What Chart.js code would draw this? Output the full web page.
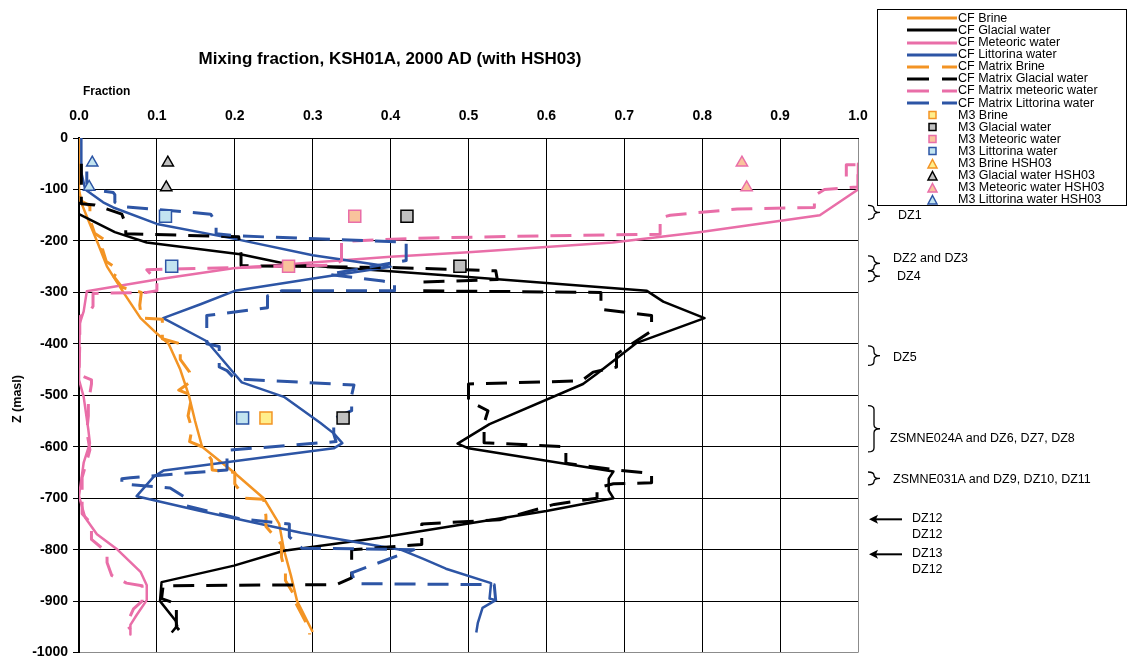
<!DOCTYPE html>
<html>
<head>
<meta charset="utf-8">
<script src="https://cdn.jsdelivr.net/npm/chart.js@4/dist/chart.umd.min.js"></script>
<style>
  html, body { margin: 0; padding: 0; background: #fff; }
  #wrap { position: relative; width: 1130px; height: 666px; overflow: hidden;
          font-family: 'Liberation Sans', Arial, sans-serif; color: #000; }
  #c { position: absolute; left: 0; top: 0; }
  .t { position: absolute; white-space: nowrap; }
  #title { left: 140px; width: 500px; top: 49px; text-align: center; font-weight: bold; font-size: 17px; line-height: 20px; }
  #xname { left: 83px; top: 84px; font-weight: bold; font-size: 12px; line-height: 14px; }
  #yname { left: 17px; top: 399px; font-weight: bold; font-size: 12.5px; line-height: 14px;
           transform: translate(-50%, -50%) rotate(-90deg); }
  #legend { position: absolute; left: 877px; top: 9px; width: 250px; height: 197px; border: 1px solid #000; box-sizing: border-box; }
  .lg { position: absolute; font-size: 12.5px; line-height: 12px; }
  .zone { font-size: 12.5px; line-height: 14px; }
</style>
</head>
<body>
<div id="wrap">
  <canvas id="c" width="1130" height="666"></canvas>
  <div id="title" class="t">Mixing fraction, KSH01A, 2000 AD (with HSH03)</div>
  <div id="xname" class="t">Fraction</div>
  <div id="yname" class="t">Z (masl)</div>
  <div id="legend"></div>
</div>
<script>
// ---- Axis ticks ----
const xTickLabels = ['0.0','0.1','0.2','0.3','0.4','0.5','0.6','0.7','0.8','0.9','1.0'];
const yTickValues = [0,-100,-200,-300,-400,-500,-600,-700,-800,-900,-1000];

// ---- Calculated fractions along the borehole: [fraction, elevation (m)] ----
const brineCF = [[0,0],[0,-100],[0.004,-130],[0.012,-160],[0.023,-200],[0.036,-250],[0.057,-300],
  [0.079,-350],[0.1,-380],[0.115,-400],[0.13,-450],[0.141,-500],[0.149,-550],[0.158,-600],[0.199,-650],
  [0.237,-700],[0.257,-750],[0.263,-800],[0.272,-850],[0.28,-900],[0.3,-960]];

const glacialCF = [[0,-148],[0.046,-183],[0.087,-203],[0.207,-226],[0.267,-245],[0.4,-259],[0.5,-270],
  [0.729,-297],[0.75,-318],[0.803,-350],[0.716,-398],[0.664,-459],[0.647,-478],[0.527,-556],[0.486,-594],
  [0.5,-603],[0.686,-648],[0.68,-662],[0.68,-685],[0.686,-700],[0.6,-725],[0.386,-777],[0.263,-802],
  [0.199,-831],[0.106,-863],[0.104,-900],[0.124,-938],[0.126,-948],[0.119,-961]];

const meteoricCF = [[1.0,-50],[1.0,-100],[0.951,-150],[0.796,-183],[0.685,-203],[0.5,-222],[0.4,-231],
  [0.198,-253],[0.1,-275],[0.01,-298],[0.006,-337],[0.001,-360],[0,-400],[0,-470],[0.006,-503],
  [0.012,-567],[0.014,-593],[0.006,-631],[0,-696],[0.008,-738],[0.023,-770],[0.048,-798],[0.079,-843],
  [0.087,-869],[0.087,-898],[0.074,-927],[0.066,-946],[0.066,-965]];

const littorinaCF = [[0.003,0],[0.003,-67],[0.008,-100],[0.031,-125],[0.044,-135],[0.1,-167],[0.2,-196],
  [0.3,-228],[0.4,-250],[0.305,-272],[0.2,-297],[0.156,-323],[0.108,-350],[0.164,-395],[0.2,-459],
  [0.209,-475],[0.263,-503],[0.31,-554],[0.327,-574],[0.338,-593],[0.327,-603],[0.194,-629],[0.109,-646],
  [0.096,-658],[0.074,-696],[0.156,-725],[0.285,-767],[0.413,-800],[0.442,-818],[0.471,-837],[0.529,-865],
  [0.527,-895],[0.535,-898],[0.518,-913],[0.512,-942],[0.51,-961]];

// ---- Matrix fractions ----
const brineMatrix = [[0,-50],[0,-120],[0.014,-132],[0.014,-158],[0.02,-185],[0.035,-200],[0.03,-215],
  [0.035,-240],[0.05,-255],[0.045,-270],[0.055,-290],[0.08,-300],[0.078,-325],[0.08,-350],[0.107,-352],
  [0.107,-390],[0.13,-400],[0.13,-430],[0.142,-455],[0.142,-475],[0.128,-490],[0.145,-500],[0.14,-540],
  [0.145,-565],[0.142,-590],[0.158,-600],[0.17,-625],[0.171,-645],[0.2,-650],[0.2,-672],[0.213,-700],
  [0.237,-702],[0.24,-735],[0.24,-755],[0.26,-790],[0.26,-815],[0.265,-845],[0.265,-860],[0.277,-890],
  [0.277,-900],[0.296,-955],[0.296,-965]];

const glacialMatrix = [[0.003,-50],[0.003,-128],[0.02,-130],[0.055,-148],[0.06,-168],[0.06,-186],
  [0.205,-192],[0.208,-226],[0.208,-248],[0.41,-252],[0.535,-258],[0.537,-275],[0.44,-280],[0.44,-297],
  [0.67,-300],[0.67,-333],[0.735,-345],[0.735,-375],[0.71,-400],[0.69,-420],[0.69,-445],[0.66,-455],
  [0.645,-472],[0.5,-478],[0.5,-511],[0.525,-530],[0.52,-555],[0.52,-592],[0.625,-600],[0.625,-632],
  [0.69,-645],[0.735,-652],[0.735,-670],[0.686,-672],[0.665,-680],[0.665,-700],[0.61,-712],[0.54,-742],
  [0.44,-750],[0.44,-790],[0.35,-800],[0.35,-855],[0.33,-868],[0.108,-870],[0.106,-895],[0.125,-905],
  [0.125,-950],[0.132,-962]];

const meteoricMatrix = [[0.985,-75],[0.985,-52],[1.0,-52],[1.0,-95],[0.957,-100],[0.944,-112],[0.944,-135],
  [0.845,-138],[0.759,-150],[0.746,-155],[0.746,-187],[0.6,-190],[0.43,-195],[0.35,-200],[0.337,-202],
  [0.337,-238],[0.327,-247],[0.087,-256],[0.1,-278],[0.1,-297],[0.087,-300],[0.018,-302],[0.018,-327],
  [0.014,-337],[0.001,-347],[0.001,-400],[0,-460],[0.016,-470],[0.016,-478],[0.012,-515],[0.012,-540],
  [0.01,-570],[0.014,-606],[0.004,-660],[0.004,-730],[0.016,-750],[0.016,-780],[0.036,-805],[0.036,-825],
  [0.042,-850],[0.061,-865],[0.081,-870],[0.081,-900],[0.07,-915],[0.061,-945],[0.066,-955]];

const littorinaMatrix = [[0.01,-65],[0.01,-88],[0.014,-100],[0.044,-106],[0.046,-110],[0.046,-125],
  [0.055,-133],[0.169,-148],[0.176,-165],[0.176,-186],[0.2,-190],[0.41,-202],[0.42,-202],[0.42,-238],
  [0.32,-265],[0.39,-278],[0.405,-282],[0.405,-297],[0.26,-297],[0.242,-307],[0.242,-330],[0.164,-345],
  [0.164,-400],[0.18,-405],[0.18,-445],[0.19,-452],[0.2,-468],[0.353,-480],[0.35,-500],[0.35,-530],
  [0.327,-545],[0.327,-575],[0.33,-590],[0.206,-605],[0.19,-607],[0.19,-645],[0.066,-660],[0.055,-662],
  [0.055,-672],[0.117,-680],[0.138,-700],[0.138,-715],[0.207,-740],[0.27,-750],[0.27,-775],[0.286,-797],
  [0.43,-800],[0.35,-845],[0.355,-866],[0.533,-868],[0.535,-900]];

// ---- M3 sample points ----
const m3Brine = [[0.24,-544]];
const m3Glacial = [[0.421,-152],[0.489,-249],[0.339,-544]];
const m3Meteoric = [[0.354,-152],[0.269,-249]];
const m3Littorina = [[0.111,-152],[0.119,-249],[0.21,-544]];
const hshBrine = [];
const hshGlacial = [[0.114,-48],[0.112,-96]];
const hshMeteoric = [[0.851,-48],[0.857,-96]];
const hshLittorina = [[0.017,-48],[0.013,-95]];

// ---- Deformation zone annotations ----
const zoneNames = ['DZ1','DZ2 and DZ3','DZ4','DZ5','ZSMNE024A and DZ6, DZ7, DZ8','ZSMNE031A and DZ9, DZ10, DZ11'];
const zoneTop = [-131,-229,-258,-404,-520,-649];
const zoneBottom = [-158,-258,-279,-442,-610,-674];
const zoneLabelZ = [-151,-234,-270,-426,-583,-663];
const arrowZ = [-741,-809];
const arrowNames = [['DZ12','DZ12'],['DZ13','DZ12']];
const arrowLabelZ = [[-739,-770],[-808,-838]];

// ---- Styling ----
const ORANGE = '#F39424', BLACK = '#000000', PINK = '#E96EA8', BLUE = '#2D55A5';
const FONT = "'Liberation Sans', Arial, sans-serif";

const lineSeries = [
  ['CF Brine', brineCF, ORANGE, false],
  ['CF Glacial water', glacialCF, BLACK, false],
  ['CF Meteoric water', meteoricCF, PINK, false],
  ['CF Littorina water', littorinaCF, BLUE, false],
  ['CF Matrix Brine', brineMatrix, ORANGE, true],
  ['CF Matrix Glacial water', glacialMatrix, BLACK, true],
  ['CF Matrix meteoric water', meteoricMatrix, PINK, true],
  ['CF Matrix Littorina water', littorinaMatrix, BLUE, true]
];
const markerSeries = [
  ['M3 Brine', m3Brine, 'rect', '#FFEE8C', ORANGE],
  ['M3 Glacial water', m3Glacial, 'rect', '#C0C0C0', BLACK],
  ['M3 Meteoric water', m3Meteoric, 'rect', '#F9C39C', PINK],
  ['M3 Littorina water', m3Littorina, 'rect', '#C2E4F0', BLUE],
  ['M3 Brine HSH03', hshBrine, 'triangle', '#FFEE8C', ORANGE],
  ['M3 Glacial water HSH03', hshGlacial, 'triangle', '#C0C0C0', BLACK],
  ['M3 Meteoric water HSH03', hshMeteoric, 'triangle', '#F9C39C', PINK],
  ['M3 Littorina water HSH03', hshLittorina, 'triangle', '#C2E4F0', BLUE]
];

const DASH = [21, 12];
const datasets = [];
lineSeries.forEach(([label, data, color, dashed]) => {
  datasets.push({
    label, data, showLine: true, borderColor: color, backgroundColor: color,
    borderWidth: dashed ? 3 : 2.5, borderDash: dashed ? DASH : [],
    pointRadius: 0, pointHoverRadius: 0, tension: 0, borderJoinStyle: 'round',
    kind: 'line', dashed
  });
});
markerSeries.forEach(([label, data, style, fill, stroke]) => {
  datasets.push({
    label, data, showLine: false, pointStyle: style,
    pointRadius: style === 'rect' ? 8.5 : 6.5, pointHoverRadius: style === 'rect' ? 8.5 : 6.5,
    backgroundColor: fill, borderColor: stroke, borderWidth: 1.5, pointBorderWidth: 1.5,
    kind: 'marker'
  });
});
// later series are painted above earlier ones
datasets.forEach((d, i) => { d.order = datasets.length - i; });

// braces and arrows beside the plot, placed on the depth scale
const zonePlugin = {
  id: 'zones',
  afterDraw(chart) {
    const ctx = chart.ctx, y = chart.scales.y;
    ctx.save();
    ctx.strokeStyle = '#000';
    ctx.lineWidth = 1.3;
    zoneTop.forEach((zt, i) => {
      const y0 = y.getPixelForValue(zt), y1 = y.getPixelForValue(zoneBottom[i]);
      const x0 = 868, xm = 874, xt = 880, ym = (y0 + y1) / 2;
      const r = Math.min(4, (y1 - y0) / 4);
      ctx.beginPath();
      ctx.moveTo(x0, y0);
      ctx.quadraticCurveTo(xm, y0, xm, y0 + r);
      ctx.lineTo(xm, ym - r);
      ctx.quadraticCurveTo(xm, ym, xt, ym);
      ctx.quadraticCurveTo(xm, ym, xm, ym + r);
      ctx.lineTo(xm, y1 - r);
      ctx.quadraticCurveTo(xm, y1, x0, y1);
      ctx.stroke();
    });
    ctx.lineWidth = 2;
    ctx.fillStyle = '#000';
    arrowZ.forEach(z => {
      const py = y.getPixelForValue(z);
      ctx.beginPath();
      ctx.moveTo(902, py);
      ctx.lineTo(875, py);
      ctx.stroke();
      ctx.beginPath();
      ctx.moveTo(869, py);
      ctx.lineTo(878, py - 4.5);
      ctx.lineTo(876, py);
      ctx.lineTo(878, py + 4.5);
      ctx.closePath();
      ctx.fill();
    });
    ctx.restore();
  }
};

const chart = new Chart(document.getElementById('c'), {
  type: 'scatter',
  data: { datasets },
  plugins: [zonePlugin],
  options: {
    responsive: false,
    animation: false,
    devicePixelRatio: 1,
    layout: { padding: { left: 0, top: 0, right: 272, bottom: 8 } },
    plugins: { legend: { display: false }, tooltip: { enabled: false }, title: { display: false } },
    scales: {
      x: {
        type: 'linear', position: 'top', min: 0, max: 1,
        afterFit: s => { s.height = 138; },
        afterBuildTicks: s => { s.ticks = xTickLabels.map(v => ({ value: parseFloat(v) })); },
        ticks: { callback: (v, i) => xTickLabels[i], padding: 13, maxRotation: 0, autoSkip: false,
                 color: '#000', font: { family: FONT, size: 14, weight: 'bold' } },
        grid: { color: c => (c.tick && c.tick.value >= 0.999) ? '#8c8c8c' : '#000', lineWidth: 1, drawTicks: false },
        border: { display: true, color: '#000', width: 1 }
      },
      y: {
        type: 'linear', position: 'left', min: -1000, max: 0,
        afterFit: s => { s.width = 79; },
        afterBuildTicks: s => { s.ticks = yTickValues.map(v => ({ value: v })); },
        ticks: { callback: v => String(v), padding: 5, autoSkip: false,
                 color: '#000', font: { family: FONT, size: 14, weight: 'bold' } },
        grid: { color: c => (c.tick && c.tick.value <= -999) ? '#8c8c8c' : '#000', lineWidth: 1,
                drawTicks: true, tickLength: 6, tickColor: '#000' },
        border: { display: true, color: '#000', width: 2 }
      }
    }
  }
});

// ---- zone labels as page text ----
const wrap = document.getElementById('wrap');
const yS = chart.scales.y;
const zoneTextX = [898, 893, 897, 893, 890, 893];
function addText(text, x, z) {
  const d = document.createElement('div');
  d.className = 't zone';
  d.textContent = text;
  d.style.left = x + 'px';
  d.style.top = (yS.getPixelForValue(z) - 7.5) + 'px';
  wrap.appendChild(d);
}
zoneNames.forEach((n, i) => addText(n, zoneTextX[i], zoneLabelZ[i]));
arrowNames.forEach((pair, i) => pair.forEach((n, j) => addText(n, 912, arrowLabelZ[i][j])));

// ---- legend ----
const legend = document.getElementById('legend');
const NS = 'http://www.w3.org/2000/svg';
datasets.forEach((d, i) => {
  const yc = 17.3 + i * 12.1 - 9;   // row centre inside the legend box
  const svg = document.createElementNS(NS, 'svg');
  svg.setAttribute('width', 54); svg.setAttribute('height', 12);
  svg.style.position = 'absolute';
  svg.style.left = (906 - 878) + 'px';
  svg.style.top = (yc - 6) + 'px';
  if (d.kind === 'line') {
    const l = document.createElementNS(NS, 'line');
    l.setAttribute('x1', 1); l.setAttribute('x2', 51); l.setAttribute('y1', 6); l.setAttribute('y2', 6);
    l.setAttribute('stroke', d.borderColor); l.setAttribute('stroke-width', 3);
    if (d.dashed) l.setAttribute('stroke-dasharray', '22 13');
    svg.appendChild(l);
  } else {
    let m;
    if (d.pointStyle === 'rect') {
      m = document.createElementNS(NS, 'rect');
      m.setAttribute('x', 23); m.setAttribute('y', 2.5); m.setAttribute('width', 7); m.setAttribute('height', 7);
    } else {
      m = document.createElementNS(NS, 'polygon');
      m.setAttribute('points', '26.5,1.5 31,10 22,10');
    }
    m.setAttribute('fill', d.backgroundColor); m.setAttribute('stroke', d.borderColor); m.setAttribute('stroke-width', 1.5);
    svg.appendChild(m);
  }
  legend.appendChild(svg);
  const t = document.createElement('div');
  t.className = 'lg';
  t.textContent = d.label;
  t.style.left = (958 - 878) + 'px';
  t.style.top = (yc - 6.5) + 'px';
  legend.appendChild(t);
});
</script>
</body>
</html>
